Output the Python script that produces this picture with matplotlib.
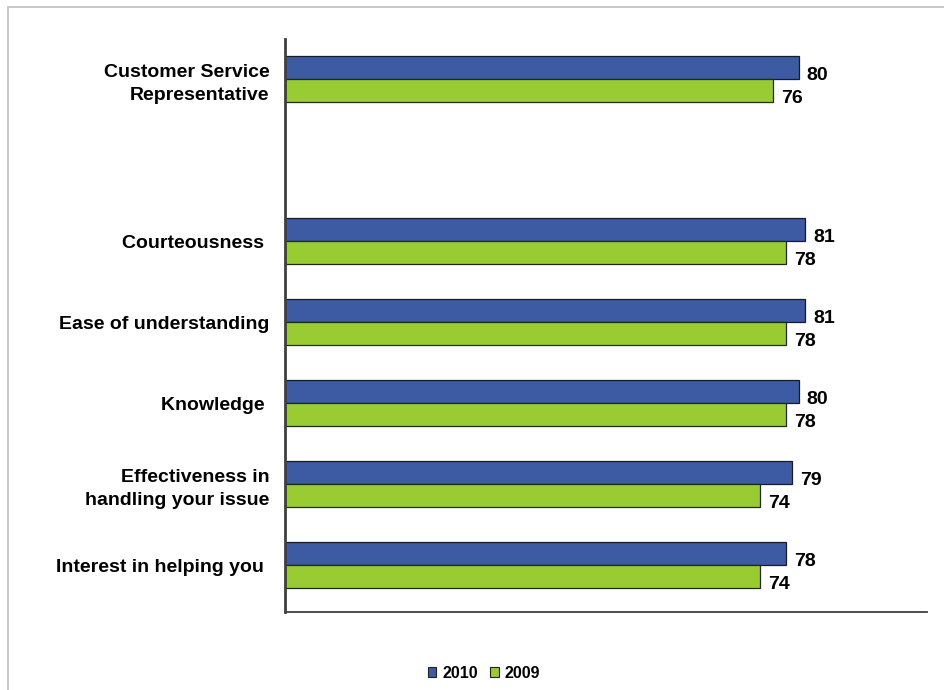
import matplotlib.pyplot as plt
import numpy as np
from matplotlib.patches import Patch
from matplotlib.lines import Line2D

plt.rcParams['font.family'] = ['Liberation Sans', 'DejaVu Sans']
plt.rcParams['font.weight'] = 'bold'

# empty slot between the overall score and the attributes
categories = ["Customer Service\nRepresentative", "", "Courteousness ", "Ease of understanding",
              "Knowledge ", "Effectiveness in\nhandling your issue", "Interest in helping you "]
scores_2010 = [80, None, 81, 81, 80, 79, 78]
scores_2009 = [76, None, 78, 78, 78, 74, 74]
years = ["2010", "2009"]
colors = ["#3C5BA3", "#99CC33"]

fig = plt.figure(figsize=(9.44, 6.9), dpi=100)
ax = fig.add_axes([285 / 944, 1 - 612 / 690, (927 - 285) / 944, (612 - 39) / 690])

# light outer border of the chart area
fig.add_artist(Line2D([8 / 944, 1], [1 - 7 / 690, 1 - 7 / 690], color="#C8C8C8", lw=1.4))
fig.add_artist(Line2D([8 / 944, 8 / 944], [0, 1 - 7 / 690], color="#C8C8C8", lw=1.4))

h = 0.285
ypos = np.arange(len(categories))
for i, (a, b) in enumerate(zip(scores_2010, scores_2009)):
    if a is None:
        continue
    ax.barh(i - h / 2, a, height=h, color=colors[0], edgecolor="#1A1A2E", linewidth=0.9)
    ax.barh(i + h / 2, b, height=h, color=colors[1], edgecolor="#1F2A10", linewidth=0.9)
    ax.annotate(str(a), (a, i - h / 2), xytext=(8, -8), textcoords="offset pixels",
                va="center", ha="left", fontsize=14, fontweight="bold")
    ax.annotate(str(b), (b, i + h / 2), xytext=(8, -8), textcoords="offset pixels",
                va="center", ha="left", fontsize=14, fontweight="bold")

ax.set_xlim(0, 100)
ax.set_ylim(6 + 0.58, -0.494)
ax.set_yticks(ypos)
ax.set_yticklabels(categories, fontsize=14, fontweight="bold", multialignment="right",
                   linespacing=1.45)
ax.tick_params(axis="y", length=0, pad=11)
ax.set_xticks([])
for s in ["top", "right"]:
    ax.spines[s].set_visible(False)
ax.spines["left"].set_color("#404040")
ax.spines["left"].set_linewidth(2)
ax.spines["bottom"].set_color("#404040")
ax.spines["bottom"].set_linewidth(1.3)

handles = [Patch(facecolor=c, edgecolor="#222222", linewidth=0.8) for c in colors]
fig.legend(handles, years, loc="center", bbox_to_anchor=(484 / 944, 1 - 673 / 690), ncol=2,
           frameon=False, prop={"size": 11.5, "weight": "bold"}, handlelength=0.55,
           handleheight=0.55, handletextpad=0.35, columnspacing=0.8)

fig.savefig("out.png", dpi=100)
